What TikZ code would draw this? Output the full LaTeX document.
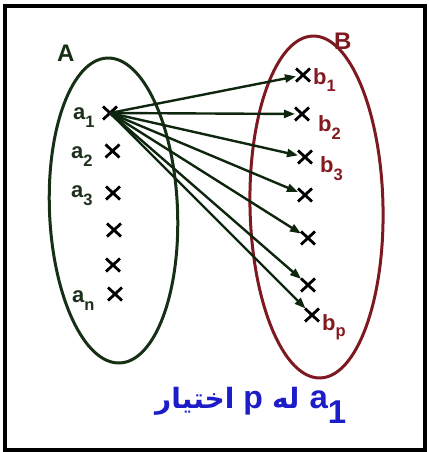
\documentclass[tikz,border=0pt]{standalone}
\usepackage{fontspec}
\setmainfont{Liberation Sans}
\newfontfamily\arabicfont[Script=Arabic]{DejaVu Sans}
\TeXXeTstate=1
\usetikzlibrary{arrows.meta,shapes.misc}
\definecolor{setA}{RGB}{22,48,22}
\definecolor{arrowc}{RGB}{14,38,14}
\definecolor{setB}{RGB}{125,25,32}
\definecolor{labA}{RGB}{28,48,28}
\definecolor{labB}{RGB}{130,26,32}
\definecolor{titleblue}{RGB}{28,28,200}
\newcommand{\lsub}[2][8pt]{\raisebox{-#1}{\fontsize{16.5}{16.5}\selectfont #2}}
\tikzset{
  pt/.style={cross out, draw=black, line width=2.8pt, minimum width=14pt, minimum height=13pt, inner sep=0pt, outer sep=0pt},
  arr/.style={draw=arrowc, line width=2.4pt, -{Triangle[length=11pt,width=8pt]}},
  alab/.style={anchor=base west, inner sep=0pt, text=labA, font=\bfseries\fontsize{22}{22}\selectfont},
  blab/.style={anchor=base west, inner sep=0pt, text=labB, font=\bfseries\fontsize{22}{22}\selectfont},
  setlab/.style={anchor=base west, inner sep=0pt, font=\bfseries\fontsize{24}{24}\selectfont},
}
\begin{document}
\begin{tikzpicture}[x=1pt,y=-1pt]
\useasboundingbox (0,0) rectangle (428,452);
\draw[line width=4pt] (5,6) rectangle (425,450);
% sets
\draw[setA, line width=3pt, rotate around={2.4:(113.5,210.5)}] (113.5,210.5) ellipse (64 and 152.6);
\draw[setB, line width=3pt, rotate around={1.2:(316.5,207)}] (316.5,207) ellipse (66.5 and 171);
\node[setlab, text=setA] (lA) at (57,62) {A};
\node[setlab, text=setB] (lB) at (334,49) {B};
% points of A
\node[pt] (a1) at (110,113) {};
\node[pt] (a2) at (112.5,151) {};
\node[pt] (a3) at (113,193) {};
\node[pt] (a4) at (114,230) {};
\node[pt] (a5) at (113,265) {};
\node[pt] (an) at (115,294) {};
% points of B
\node[pt] (b1) at (303,75) {};
\node[pt] (b2) at (302,114) {};
\node[pt] (b3) at (305,157) {};
\node[pt] (b4) at (305,195) {};
\node[pt] (b5) at (308,238) {};
\node[pt] (b6) at (308,285) {};
\node[pt] (bp) at (312,315) {};
% labels
\node[alab] (la1) at (73,119) {a\lsub{1}};
\node[alab] (la2) at (71,158) {a\lsub{2}};
\node[alab] (la3) at (71,197) {a\lsub{3}};
\node[alab] (lan) at (72,302) {a\lsub{n}};
\node[blab] (lb1) at (313,84) {b\lsub{1}};
\node[blab] (lb2) at (318,131) {b\lsub{2}};
\node[blab] (lb3) at (320,172) {b\lsub{3}};
\node[blab] (lbp) at (322,330) {b\lsub[6pt]{p}};
% arrows
\foreach \t in {b1,b2,b3,b4,b5,b6,bp}
  \draw[arr] (a1.center) -- (\t);
% caption
\node[anchor=base west, inner sep=0pt, text=titleblue] (cap) at (155,408)
  {{\arabicfont\bfseries\fontsize{28}{28}\selectfont\beginR اختیار\endR}\hspace{9pt}{\bfseries\fontsize{32}{32}\selectfont p}\hspace{9pt}{\arabicfont\bfseries\fontsize{28}{28}\selectfont\beginR له\endR}\hspace{10pt}{\bfseries\fontsize{33}{33}\selectfont a\raisebox{-15pt}{1}}};
\end{tikzpicture}
\end{document}
